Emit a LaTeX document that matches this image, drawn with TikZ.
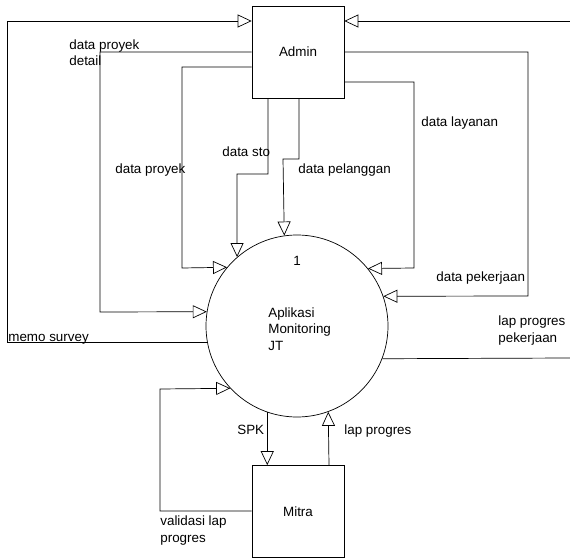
\documentclass[tikz,border=0pt]{standalone}
\usepackage{fontspec}
\setmainfont{Liberation Sans}
\usetikzlibrary{arrows.meta,positioning,calc}

\begin{document}
\begin{tikzpicture}[
  x=1pt, y=-1pt,
  box/.style={draw, minimum width=92pt, minimum height=92pt, inner sep=0pt},
  proc/.style={draw, circle, minimum size=182pt, inner sep=0pt},
  flow/.style={-{Triangle[open, length=14pt, width=13pt]}},
  lbl/.style={anchor=base west, inner sep=0pt, align=left},
  line width=0.7pt,
  font=\fontsize{13.4}{16.5}\selectfont
]
\useasboundingbox (0,0) rectangle (570,559);

% Nodes
\node[box] (admin) at (298,52) {Admin};
\node[proc] (apl) at (297,326) {};
\node[inner sep=0pt, anchor=base] (num) at (297,265) {1};
\node[lbl] (aplname) at (268,350) {Aplikasi\\Monitoring\\JT};
\node[box] (mitra) at (298,511.5) {Mitra};
\coordinate (inR) at (570,21);
\coordinate (outR) at (570,358);

% Flows from Admin
\draw[flow] (admin.west |- 0,52) -| (100,312) -- (apl.171.2);
\draw[flow] (admin.west |- 0,67) -| (182,268) -- (apl.140.4);
\draw[flow] (admin.south -| 268,0) |- (237,174) -- (apl.131.2);
\draw[flow] (admin.south -| 299,0) |- (283,159) -- (apl.98.85);
\draw[flow] (admin.east |- 0,82) -| (414,268) -- (apl.39.6);
\draw[flow] (admin.east |- 0,52) -| (528,296) -- (apl.19.25);

% Flows to Admin
\draw[flow] (apl.190.1) -| (7,21) -- (admin.west |- 0,21);
\draw[flow] (inR) -- (admin.east |- inR);

% Flows with Mitra
\draw[flow] (apl.251.4) -- (mitra.north -| apl.251.4);
\draw[flow] (mitra.north -| 329,0) -- (apl.290.6);
\draw[flow] (mitra.west |- 0,511) -| (160,389) -- (apl.223.8);
\draw (apl.339.4) -- (outR);

% Labels
\node[lbl] (lproyekdet) at (69,66) {data proyek\\detail};
\node[lbl] (lproyek) at (115,173) {data proyek};
\node[lbl] (lsto) at (222,157) {data sto};
\node[lbl] (lpelanggan) at (298,173) {data pelanggan};
\node[lbl] (llayanan) at (421,127) {data layanan};
\node[lbl] (lpekerjaan) at (436,281) {data pekerjaan};
\node[lbl] (lmemo) at (8,341) {memo survey};
\node[lbl] (llappek) at (498,342) {lap progres\\pekerjaan};
\node[lbl] (lspk) at (237,434) {SPK};
\node[lbl] (llap) at (344,434) {lap progres};
\node[lbl] (lvalid) at (160,542) {validasi lap\\progres};
\end{tikzpicture}
\end{document}
